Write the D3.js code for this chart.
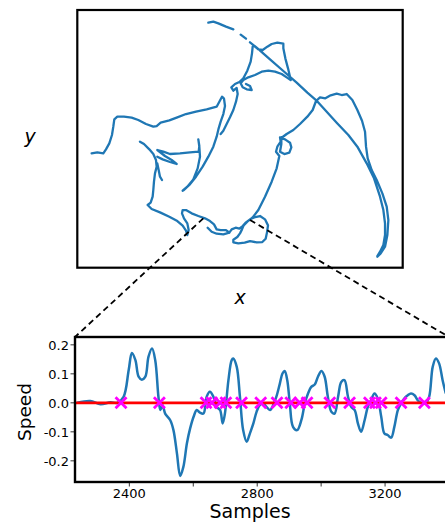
<!DOCTYPE html>
<html><head><meta charset="utf-8">
<script src="https://cdn.jsdelivr.net/npm/d3@7"></script>
<style>body{margin:0;background:#fff}svg{display:block}text{font-family:"DejaVu Sans",sans-serif}</style>
</head><body>
<svg id="c" width="445" height="522"></svg>
<script>
// ---------- data ----------
// trajectory (position units, y downward); null = gap in track
const trajX = [65,82,100,108,118,126,130,133,142,162,185,205,228,250,260,272,298,322,348,378,410,440,448,456,462,465,460,452,446,440,430,415,398,378,358,342,338,352,370,383,390,388,385,388,386,360,330,300,280,262,285,305,320,300,278,262,null,
210,222,238,250,258,260,255,252,250,248,242,233,245,270,298,322,338,348,352,356,352,342,336,338,348,365,385,405,420,432,440,452,468,478,460,440,425,413,null,
478,485,497,508,518,528,542,556,570,585,594,591,587,577,560,540,524,505,490,490,502,510,516,521,532,548,565,585,605,620,628,618,622,632,630,645,660,664,658,643,630,634,634,650,670,690,712,728,738,750,766,782,800,815,830,847,862,876,885,888,893,905,920,937,950,955,952,945,932,922,null,
262,266,270,276,null,
415,430,445,468,490,null,
512,528,null,
540,560,600,640,680,712,738,768,800,835,862,890,912,930,940,945,945,940,930,922,null,
548,546,542,532,520,508,495,484,490,500,503,498,490,480,470,460,452,null,
555,565,578,592,605,622,640,640,646,654,660,662,650,635,615,595,575,555,535,520,512,518,530,545,540,528];
const trajY = [460,457,460,448,430,405,380,358,350,350,353,360,372,380,378,368,361,352,342,335,328,320,305,290,296,318,342,365,385,410,440,470,500,530,555,570,572,560,538,505,470,440,418,438,455,457,460,462,455,450,468,480,492,486,478,470,null,
425,432,448,462,480,500,520,545,570,590,608,615,627,637,650,663,677,692,705,690,670,655,640,630,630,640,648,655,663,673,688,690,690,698,703,701,695,683,null,
698,688,683,686,678,667,657,651,648,658,676,697,716,726,727,723,728,730,727,719,711,700,688,676,665,652,630,590,545,505,468,455,440,425,412,418,428,442,458,462,455,432,414,402,390,372,350,330,303,292,295,286,281,285,282,300,330,362,395,440,475,510,540,580,620,660,705,740,760,770,null,
490,510,530,540,null,
68,65,70,80,88,null,
104,116,null,
127,143,178,213,248,278,300,333,368,405,440,490,535,590,630,670,705,735,755,768,null,
140,160,185,212,235,246,252,262,272,264,282,305,330,352,372,392,402,null,
140,148,150,140,132,128,131,145,175,205,230,240,232,222,215,212,215,225,232,240,250,262,268,270,258,252];
// connector anchors on the trajectory (start / end of zoomed window)
const anchorStart = [400,655];
const anchorEnd = [540,660];

// speed series
const samples = [2237,2278,2310,2341,2362,2382,2398,2408,2419,2429,2439,2450,2460,2471,2481,2491,2497,2504,2512,2528,2538,2549,2559,2569,2580,2590,2601,2611,2621,2632,2642,2652,2663,2673,2684,2692,2699,2710,2720,2725,2736,2746,2756,2767,2777,2788,2798,2808,2819,2829,2840,2850,2860,2871,2879,2886,2894,2902,2912,2925,2938,2949,2959,2969,2980,2990,3001,3011,3021,3032,3042,3053,3063,3073,3084,3094,3105,3115,3125,3136,3146,3156,3167,3177,3188,3198,3208,3219,3229,3240,3250,3260,3271,3281,3292,3302,3312,3328,3338,3349,3359,3369,3380,3390];
const speed = [0,0.006,-0.005,0.002,0,0.021,0.113,0.172,0.147,0.090,0.080,0.090,0.159,0.187,0.147,0.021,-0.025,-0.008,-0.037,-0.060,-0.094,-0.175,-0.252,-0.221,-0.140,-0.089,-0.048,-0.025,-0.034,-0.037,0.021,0.038,0.021,-0.014,-0.025,-0.071,-0.037,0.078,0.147,0.153,0.124,0.021,-0.094,-0.134,-0.106,-0.071,-0.031,-0.008,-0.002,-0.014,-0.025,-0.008,0.021,0.067,0.101,0.110,0.078,-0.002,-0.083,-0.094,-0.060,-0.002,0.032,0.055,0.063,0.090,0.110,0.090,0.021,-0.031,-0.037,0.021,0.072,0.078,0.021,-0.014,-0.025,-0.071,-0.100,-0.060,-0.014,0.009,0.032,0.015,-0.048,-0.106,-0.111,-0.120,-0.083,-0.025,-0.002,0.015,0.026,0.032,0.026,0.009,0,0,0.021,0.124,0.153,0.136,0.078,0.032];
// detected events (zero crossings)
const events = [2374,2494,2640,2658,2684,2702,2751,2811,2862,2905,2933,2956,3027,3089,3151,3170,3188,3250,3323];
const xTicks = [2400,2600,2800,3000,3200];
const xTickLabels = {2400:"2400",2800:"2800",3200:"3200"};
const yTicks = [-0.2,-0.1,0,0.1,0.2];
const yTickLabels = ["-0.2","-0.1","0.0","0.1","0.2"];

// ---------- drawing ----------
const svg = d3.select("#c");
const blue = "#1f77b4";

// top panel
const xT = d3.scaleLinear().domain([22,998]).range([77.3,402.7]);
const yT = d3.scaleLinear().domain([30,803]).range([10,267.7]);
const traj = trajX.map((x,i)=>[x,trajY[i]]);
svg.append("path")
  .attr("d", d3.line().defined(d=>d[0]!=null).x(d=>xT(d[0])).y(d=>yT(d[1])).curve(d3.curveLinear)(traj))
  .attr("fill","none").attr("stroke",blue).attr("stroke-width",2.3).attr("stroke-linejoin","round").attr("stroke-linecap","round");
svg.append("rect").attr("x",xT.range()[0]).attr("y",yT.range()[0])
  .attr("width",xT.range()[1]-xT.range()[0]).attr("height",yT.range()[1]-yT.range()[0])
  .attr("fill","none").attr("stroke","#000").attr("stroke-width",2.2);
svg.append("text").attr("x",30).attr("y",143).attr("text-anchor","middle")
  .attr("font-size",19).attr("font-style","italic").text("y");
svg.append("text").attr("x",240).attr("y",304).attr("text-anchor","middle")
  .attr("font-size",19).attr("font-style","italic").text("x");

// bottom panel
const xB = d3.scaleLinear().domain([2230,3400]).range([75,449]);
const yB = d3.scaleLinear().domain([-0.273,0.227]).range([482,337]);
const [bx0,bx1] = xB.range(), [by1,by0] = yB.range();
svg.append("clipPath").attr("id","clipB").append("rect")
  .attr("x",bx0).attr("y",by0).attr("width",bx1-bx0).attr("height",by1-by0);
const gB = svg.append("g").attr("clip-path","url(#clipB)");
gB.append("path")
  .attr("d", d3.line().x((d,i)=>xB(samples[i])).y(d=>yB(d)).curve(d3.curveCatmullRom)(speed))
  .attr("fill","none").attr("stroke",blue).attr("stroke-width",2.5);
gB.append("line").attr("x1",bx0).attr("x2",bx1).attr("y1",yB(0)).attr("y2",yB(0))
  .attr("stroke","#ff0000").attr("stroke-width",2.8);
const ms = 5.5;
events.forEach(s=>{
  const cx = xB(s), cy = yB(0);
  gB.append("path").attr("d",`M${cx-ms},${cy-ms}L${cx+ms},${cy+ms}M${cx-ms},${cy+ms}L${cx+ms},${cy-ms}`)
    .attr("stroke","#ff00ff").attr("stroke-width",2.8).attr("fill","none");
});
svg.append("rect").attr("x",bx0).attr("y",by0).attr("width",bx1-bx0).attr("height",by1-by0)
  .attr("fill","none").attr("stroke","#000").attr("stroke-width",2.4);
// x ticks
xTicks.forEach(t=>{
  svg.append("line").attr("x1",xB(t)).attr("x2",xB(t)).attr("y1",by1+1).attr("y2",by1+4.5)
    .attr("stroke","#000").attr("stroke-width",0.8);
  if (xTickLabels[t]) svg.append("text").attr("x",xB(t)).attr("y",498).attr("text-anchor","middle")
    .attr("font-size",13).text(xTickLabels[t]);
});
yTicks.forEach((t,i)=>{
  svg.append("line").attr("x1",bx0-1).attr("x2",bx0-4.5).attr("y1",yB(t)).attr("y2",yB(t))
    .attr("stroke","#000").attr("stroke-width",0.8);
  svg.append("text").attr("x",69).attr("y",yB(t)).attr("dy","0.36em").attr("text-anchor","end")
    .attr("font-size",13).text(yTickLabels[i]);
});
svg.append("text").attr("transform","translate(31,412) rotate(-90)").attr("text-anchor","middle")
  .attr("font-size",18.5).text("Speed");
svg.append("text").attr("x",250).attr("y",518).attr("text-anchor","middle")
  .attr("font-size",19).text("Samples");

// connectors
[[anchorStart, xB.domain()[0]],[anchorEnd, xB.domain()[1]]].forEach(([a,s])=>{
  svg.append("line").attr("x1",xT(a[0])).attr("y1",yT(a[1])).attr("x2",xB(s)).attr("y2",yB(yB.domain()[1]))
    .attr("stroke","#000").attr("stroke-width",1.8).attr("stroke-dasharray","6,4");
});
</script>
</body></html>
